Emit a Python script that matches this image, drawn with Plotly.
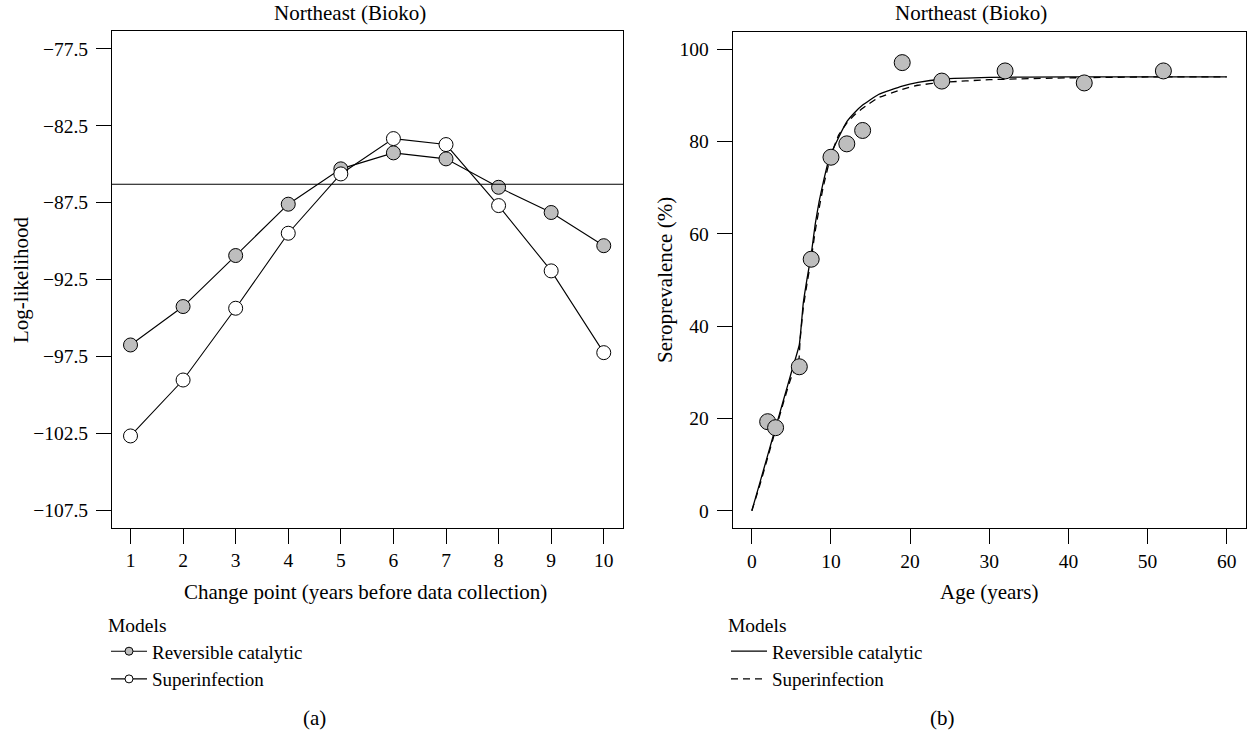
import plotly.graph_objects as go

# ---------------- data ----------------
change_points = [1, 2, 3, 4, 5, 6, 7, 8, 9, 10]
loglik_reversible = [-96.76, -94.26, -90.94, -87.6, -85.3, -84.26, -84.65, -86.5, -88.14, -90.3]
loglik_superinf = [-102.68, -99.04, -94.37, -89.49, -85.63, -83.33, -83.72, -87.69, -91.94, -97.26]
loglik_threshold = -86.3
loglik_ticks = [-77.5, -82.5, -87.5, -92.5, -97.5, -102.5, -107.5]

obs_age = [2, 3, 6, 7.5, 10, 12, 14, 19, 24, 32, 42, 52]
obs_prev = [19.3, 18.0, 31.2, 54.5, 76.6, 79.5, 82.4, 97.1, 93.1, 95.3, 92.7, 95.3]

fit_age_rc = [0, 1, 2, 3, 4, 5, 6, 6.5, 7, 7.5, 8, 8.5, 9, 9.8, 11, 12, 13, 14, 16, 19, 21, 24, 30, 40, 50, 60]
fit_rc = [0, 6, 12, 18, 24, 30, 36, 45, 50.5, 55.5, 62, 67, 71, 76.5, 81, 84.3, 86.3, 87.9, 90.2, 92.0, 92.8, 93.5, 93.9, 94.0, 94.0, 94.0]

fit_age_si = [0, 1, 2, 3, 4, 5, 5.9, 6.1, 6.5, 7, 7.5, 8, 8.5, 9, 10, 11, 12, 13, 14, 16, 19, 21, 24, 30, 40, 50, 60]
fit_si = [0, 5.5, 11.5, 17.5, 23.5, 29, 32, 37, 44, 49.5, 54.5, 60.5, 65.5, 70, 77, 81.5, 84.0, 85.8, 87.2, 89.5, 91.3, 92.2, 92.8, 93.4, 93.8, 94.0, 94.0]

FONT = "Liberation Serif"
GREY = "#bebebe"
W, H = 1253, 736
TICK_SIZE = 19.5
LABEL_SIZE = 21
LEG_SIZE = 18.5

def px(x):
    return x / W

def py(y):
    return 1 - y / H

fig = go.Figure()

# ----- panel (a) -----
fig.add_trace(go.Scatter(x=change_points, y=loglik_reversible, mode="lines+markers",
                         line=dict(color="black", width=1.1),
                         marker=dict(size=14, color=GREY, line=dict(color="black", width=1)),
                         xaxis="x", yaxis="y", showlegend=False))
fig.add_trace(go.Scatter(x=change_points, y=loglik_superinf, mode="lines+markers",
                         line=dict(color="black", width=1.1),
                         marker=dict(size=14, color="white", line=dict(color="black", width=1)),
                         xaxis="x", yaxis="y", showlegend=False))
# legend entries (a)
fig.add_trace(go.Scatter(x=[None], y=[None], mode="lines+markers", name="Reversible catalytic",
                         line=dict(color="black", width=1.1),
                         marker=dict(size=8, color=GREY, line=dict(color="black", width=1)),
                         xaxis="x", yaxis="y", legend="legend"))
fig.add_trace(go.Scatter(x=[None], y=[None], mode="lines+markers", name="Superinfection",
                         line=dict(color="black", width=1.1),
                         marker=dict(size=8, color="white", line=dict(color="black", width=1)),
                         xaxis="x", yaxis="y", legend="legend"))

# ----- panel (b) -----
fig.add_trace(go.Scatter(x=fit_age_rc, y=fit_rc, mode="lines",
                         line=dict(color="black", width=1.3, shape="spline", smoothing=0.4),
                         xaxis="x2", yaxis="y2", name="Reversible catalytic", legend="legend2"))
fig.add_trace(go.Scatter(x=fit_age_si, y=fit_si, mode="lines",
                         line=dict(color="black", width=1.3, dash="7px,5px", shape="spline", smoothing=0.4),
                         xaxis="x2", yaxis="y2", name="Superinfection", legend="legend2"))
fig.add_trace(go.Scatter(x=obs_age, y=obs_prev, mode="markers",
                         marker=dict(size=16, color=GREY, line=dict(color="black", width=1)),
                         xaxis="x2", yaxis="y2", showlegend=False))

axis_common = dict(showline=True, mirror=True, linecolor="black", linewidth=1,
                   ticks="outside", ticklen=15, tickcolor="black", tickwidth=1,
                   showgrid=False, zeroline=False,
                   tickfont=dict(family=FONT, size=TICK_SIZE, color="black"))

legend_common = dict(xanchor="left", yanchor="top", bgcolor="rgba(0,0,0,0)", tracegroupgap=0,
                     itemwidth=36,
                     title=dict(text="Models", font=dict(family=FONT, size=LEG_SIZE + 1)),
                     font=dict(family=FONT, size=LEG_SIZE + 0.5))

fig.update_layout(
    width=W, height=H,
    margin=dict(l=0, r=0, t=0, b=0),
    paper_bgcolor="white", plot_bgcolor="white",
    font=dict(family=FONT, size=LABEL_SIZE, color="black"),
    xaxis=dict(domain=[px(112), px(623)], range=[0.648, 10.366], tickvals=change_points,
               anchor="y", **axis_common),
    yaxis=dict(domain=[py(528), py(31)], range=[-108.67, -76.33], tickvals=loglik_ticks,
               tickformat=".1f", anchor="x", ticklabelstandoff=4, **axis_common),
    xaxis2=dict(domain=[px(732.6), px(1245.7)], range=[-2.43, 62.4], tickvals=[0, 10, 20, 30, 40, 50, 60],
                anchor="y2", **axis_common),
    yaxis2=dict(domain=[py(528.3), py(31.7)], range=[-3.8, 103.8], tickvals=[0, 20, 40, 60, 80, 100],
                anchor="x2", ticklabelstandoff=4, **axis_common),
    legend=dict(x=px(106), y=py(607), **legend_common),
    legend2=dict(x=px(726), y=py(607), **legend_common),
)

fig.add_shape(type="line", xref="x domain", yref="y", x0=0, x1=1,
              y0=loglik_threshold, y1=loglik_threshold, line=dict(color="black", width=1.1))

ann = [
    dict(text="Northeast (Bioko)", x=px(350), y=py(13)),
    dict(text="Northeast (Bioko)", x=px(971), y=py(13)),
    dict(text="Change point (years before data collection)", x=px(365), y=py(592)),
    dict(text="Age (years)", x=px(989), y=py(592)),
    dict(text="(a)", x=px(314), y=py(718)),
    dict(text="(b)", x=px(942), y=py(718)),
]
for a in ann:
    fig.add_annotation(xref="paper", yref="paper", showarrow=False, xanchor="center", yanchor="middle",
                       font=dict(family=FONT, size=LABEL_SIZE, color="black"), **a)
fig.add_annotation(text="Log-likelihood", xref="paper", yref="paper", x=px(21), y=py(280),
                   textangle=-90, showarrow=False, xanchor="center", yanchor="middle",
                   font=dict(family=FONT, size=LABEL_SIZE, color="black"))
fig.add_annotation(text="Seroprevalence (%)", xref="paper", yref="paper", x=px(665), y=py(280),
                   textangle=-90, showarrow=False, xanchor="center", yanchor="middle",
                   font=dict(family=FONT, size=LABEL_SIZE, color="black"))

fig.write_html("out.html")
